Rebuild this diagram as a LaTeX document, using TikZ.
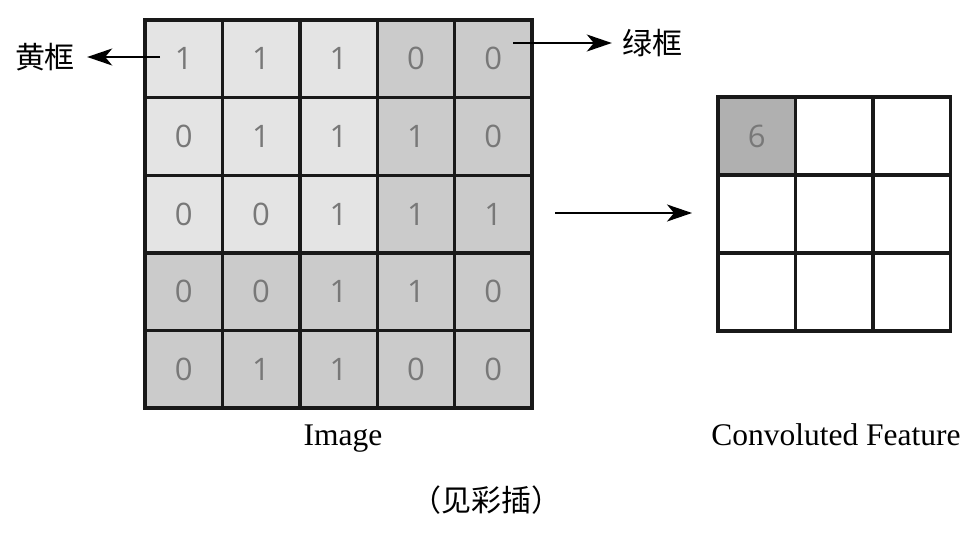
\documentclass[tikz,border=0pt]{standalone}
\usepackage{fontspec}
\setmainfont{Liberation Serif}
\newfontfamily\cjk{Noto Sans CJK SC}
\newfontfamily\digitfont{Open Sans}
\usetikzlibrary{arrows.meta}
\definecolor{lightcell}{HTML}{E4E4E4}
\definecolor{darkcell}{HTML}{CBCBCB}
\definecolor{featcell}{HTML}{B0B0B0}
\definecolor{digit}{HTML}{787878}
\begin{document}
\begin{tikzpicture}[x=1pt,y=-1pt,
  cellbox/.style={draw=black!90, line width=3.4pt, minimum width=77.4pt, minimum height=77.6pt, inner sep=0pt, outer sep=0pt, font=\digitfont\fontsize{31}{31}\selectfont, text=digit},
  conn/.style={line width=1.8pt, -{Stealth[length=25pt,width=17pt,inset=7pt]}},
  lbl/.style={font=\fontsize{31.5}{34}\selectfont, inner sep=0pt, anchor=base},
  cjklbl/.style={font=\cjk\fontsize{30}{32}\selectfont, inner sep=0pt}]
\useasboundingbox (0,0) rectangle (975,535);
% input image
\foreach \v [count=\k from 0] in {1,1,1,0,0, 0,1,1,1,0, 0,0,1,1,1, 0,0,1,1,0, 0,1,1,0,0}{
  \pgfmathtruncatemacro{\r}{int(\k/5)}
  \pgfmathtruncatemacro{\c}{mod(\k,5)}
  \pgfmathsetmacro{\fillc}{(\r<3 && \c<3) ? "lightcell" : "darkcell"}
  \node[cellbox, fill=\fillc] (i-\r-\c) at ({145+(\c+0.5)*77.4},{20+(\r+0.5)*77.6}) {\v};
}
% feature map
\foreach \r in {0,1,2}{
  \foreach \c in {0,1,2}{
    \node[cellbox, fill=white] (f-\r-\c) at ({718+(\c+0.5)*77.4},{97+(\r+0.5)*78}) {};
  }
}
\node[cellbox, fill=featcell] (f6) at (f-0-0) {6};
% labels
\node[cjklbl] (yel) at (45,57) {黄框};
\node[cjklbl] (grn) at (652,43) {绿框};
\node[lbl] (img) at (343,445) {Image};
\node[lbl] (feat) at (836,445) {Convoluted Feature};
\node[cjklbl] (note) at (486,500) {（见彩插）};
% connectors
\coordinate (ys) at (160,57);
\coordinate (gs) at (513,43);
\coordinate (ms) at (555,213);
\coordinate (me) at (692,213);
\draw[conn, shorten >=12pt] (ys) -- (yel.east);
\draw[conn, shorten >=10pt] (gs) -- (grn.west);
\draw[conn] (ms) -- (me);
\end{tikzpicture}
\end{document}
